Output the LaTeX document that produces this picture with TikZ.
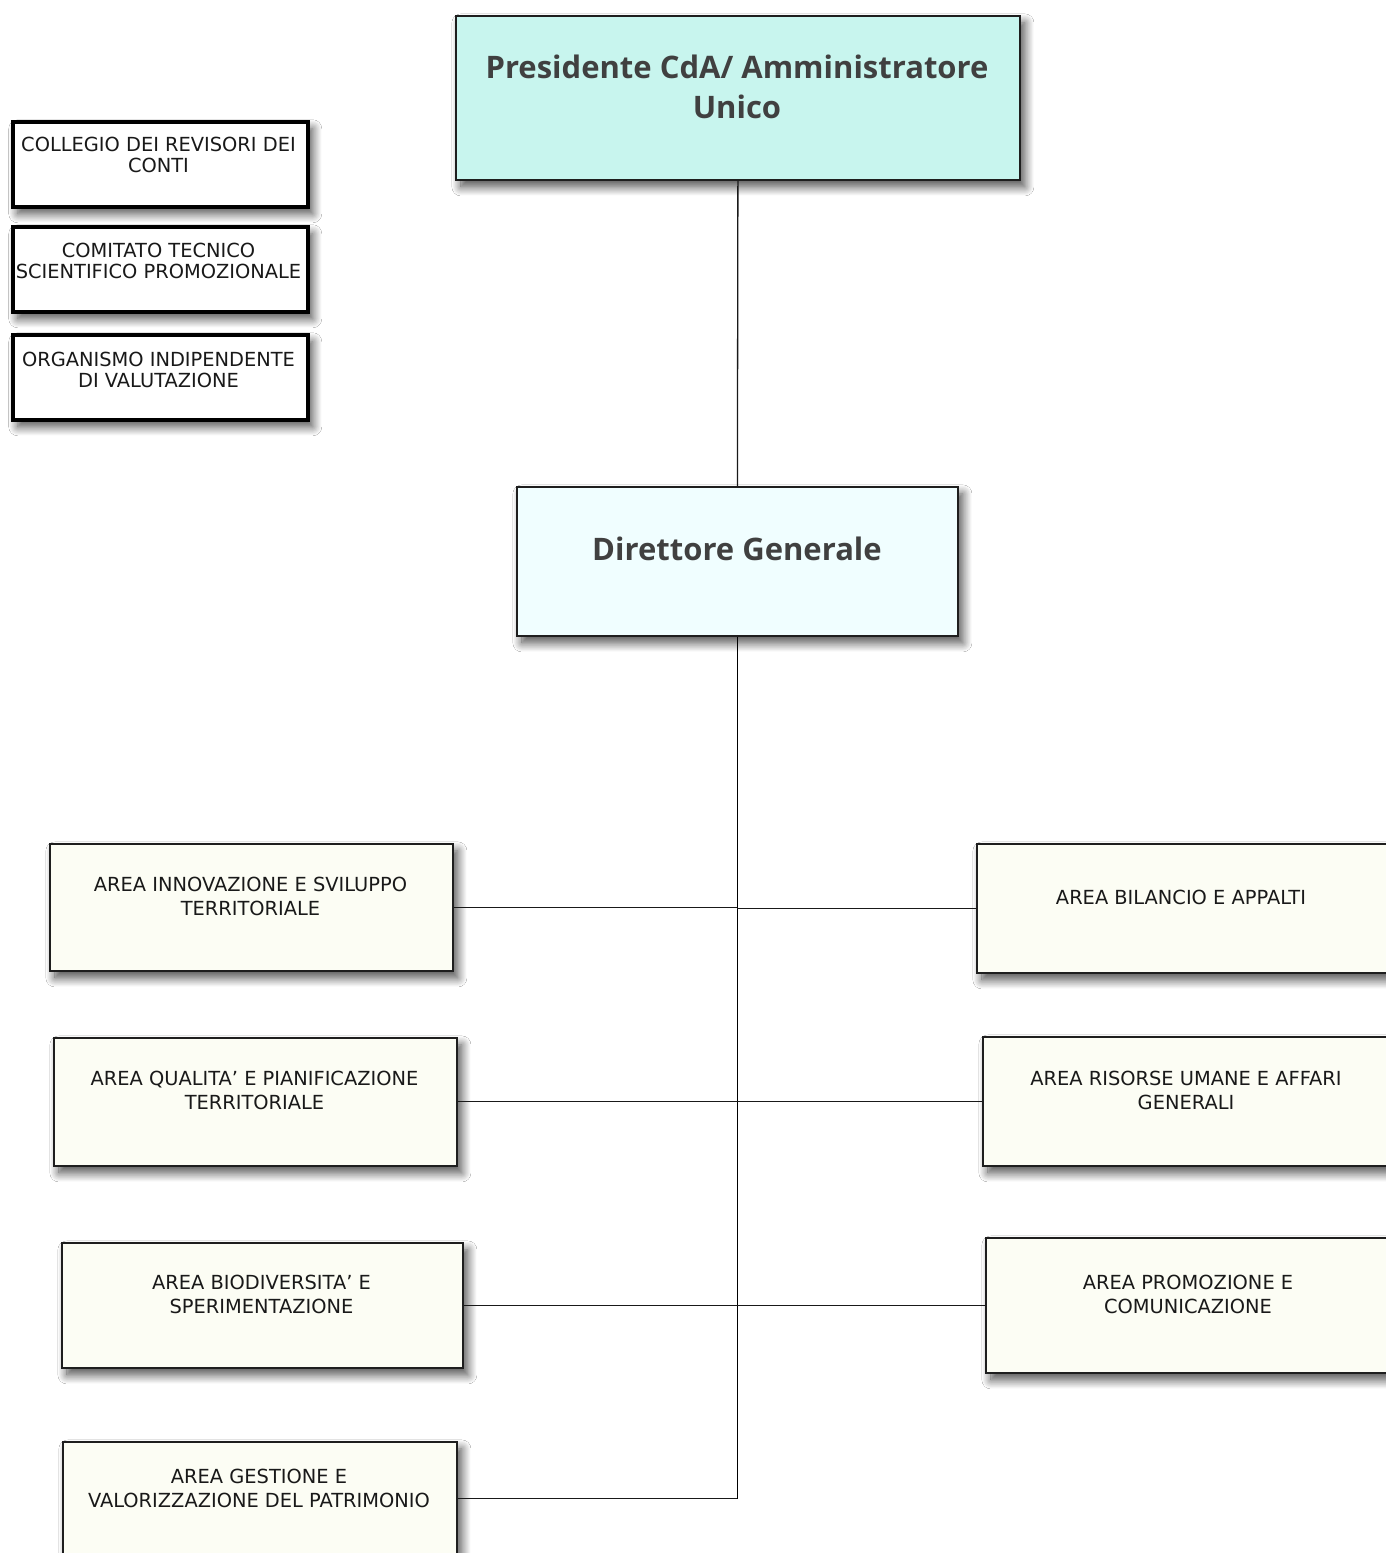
\documentclass[tikz,border=0pt]{standalone}
\usepackage{fontspec}
\setmainfont{DejaVu Sans}
\newfontfamily\titlefont{Open Sans}
\usetikzlibrary{shadows.blur}
\definecolor{presfill}{HTML}{C8F5EE}
\definecolor{dirfill}{HTML}{F0FEFF}
\definecolor{areafill}{HTML}{FCFDF4}
\definecolor{titlegray}{HTML}{404040}
\definecolor{edgegray}{HTML}{1E1E1E}
\begin{document}
\begin{tikzpicture}[x=1pt,y=-1pt,
  shad/.style={blur shadow={shadow xshift=5pt, shadow yshift=-7pt, shadow blur radius=9pt, shadow blur steps=14, shadow opacity=70}},
  box/.style={draw=edgegray, line width=1.8pt, fill=areafill, inner sep=0pt, anchor=north west, shad},
  sidebox/.style={draw=black, line width=3.5pt, fill=white, inner sep=0pt, anchor=north west, shad},
  presbox/.style={draw=edgegray, line width=1.8pt, fill=presfill, inner sep=0pt, anchor=north west, shad},
  dirbox/.style={draw=edgegray, line width=1.8pt, fill=dirfill, inner sep=0pt, anchor=north west, shad},
  areatext/.style={align=center, inner sep=0pt, text=black!90, font=\fontsize{19.4}{24}\selectfont},
  sidetext/.style={align=center, inner sep=0pt, text=black!90, font=\fontsize{19.4}{21}\selectfont},
  titletext/.style={align=center, inner sep=0pt, text=titlegray, font=\titlefont\bfseries\fontsize{31}{40}\selectfont},
  link/.style={draw=black!90, line width=1pt},
  trunk/.style={draw=black, line width=1.8pt}
]
\useasboundingbox (0,0) rectangle (1386,1553);
\clip (0,0) rectangle (1386,1553);
\fill[white] (0,0) rectangle (1386,1553);

% top boxes
\node[presbox, minimum width=564pt, minimum height=164pt] (pres) at (455,15) {};
\node[titletext] (pres-t) at (737,87) {Presidente CdA/ Amministratore\\Unico};

\node[dirbox, minimum width=441pt, minimum height=149pt] (dir) at (516,486) {};
\node[titletext] (dir-t) at (737,549) {Direttore Generale};

% side boxes
\node[sidebox, minimum width=295pt, minimum height=85pt] (coll) at (11,120) {};
\node[sidetext] (coll-t) at (158.5,155) {COLLEGIO DEI REVISORI DEI\\CONTI};
\node[sidebox, minimum width=295pt, minimum height=85pt] (comi) at (11,225) {};
\node[sidetext] (comi-t) at (158.5,260.5) {COMITATO TECNICO\\SCIENTIFICO PROMOZIONALE};
\node[sidebox, minimum width=295pt, minimum height=85pt] (orga) at (11,333) {};
\node[sidetext] (orga-t) at (158.5,369.5) {ORGANISMO INDIPENDENTE\\DI VALUTAZIONE};

% left areas
\node[box, minimum width=403pt, minimum height=127pt] (inno) at (49,843) {};
\node[areatext] (inno-t) at (250.5,896) {AREA INNOVAZIONE E SVILUPPO\\TERRITORIALE};
\node[box, minimum width=403pt, minimum height=128pt] (qual) at (53,1037) {};
\node[areatext] (qual-t) at (254.5,1090) {AREA QUALITA’ E PIANIFICAZIONE\\TERRITORIALE};
\node[box, minimum width=401pt, minimum height=125pt] (biod) at (61,1242) {};
\node[areatext] (biod-t) at (261.5,1294) {AREA BIODIVERSITA’ E\\SPERIMENTAZIONE};
\node[box, minimum width=394pt, minimum height=114pt] (gest) at (62,1441) {};
\node[areatext] (gest-t) at (259,1488) {AREA GESTIONE E\\VALORIZZAZIONE DEL PATRIMONIO};

% right areas
\node[box, minimum width=420pt, minimum height=129pt] (bila) at (976,843) {};
\node[areatext] (bila-t) at (1181,897) {AREA BILANCIO E APPALTI};
\node[box, minimum width=420pt, minimum height=129pt] (riso) at (982,1036) {};
\node[areatext] (riso-t) at (1186,1090) {AREA RISORSE UMANE E AFFARI\\GENERALI};
\node[box, minimum width=420pt, minimum height=135pt] (prom) at (985,1237) {};
\node[areatext] (prom-t) at (1188,1294) {AREA PROMOZIONE E\\COMUNICAZIONE};

% connectors
\draw[link, line width=1.3pt] (pres.south) -- (dir.north);
\draw[trunk] (dir.south) -- (dir.south |- gest.east);
\draw[link] (inno.east) -- (inno.east -| dir.south);
\draw[link] (bila.west) -- (bila.west -| dir.south);
\draw[link] (qual.east) -- (qual.east -| dir.south);
\draw[link] (riso.west) -- (riso.west -| dir.south);
\draw[link] (biod.east) -- (biod.east -| dir.south);
\draw[link] (prom.west) -- (prom.west -| dir.south);
\draw[link] (gest.east) -- (gest.east -| dir.south);
\end{tikzpicture}
\end{document}
